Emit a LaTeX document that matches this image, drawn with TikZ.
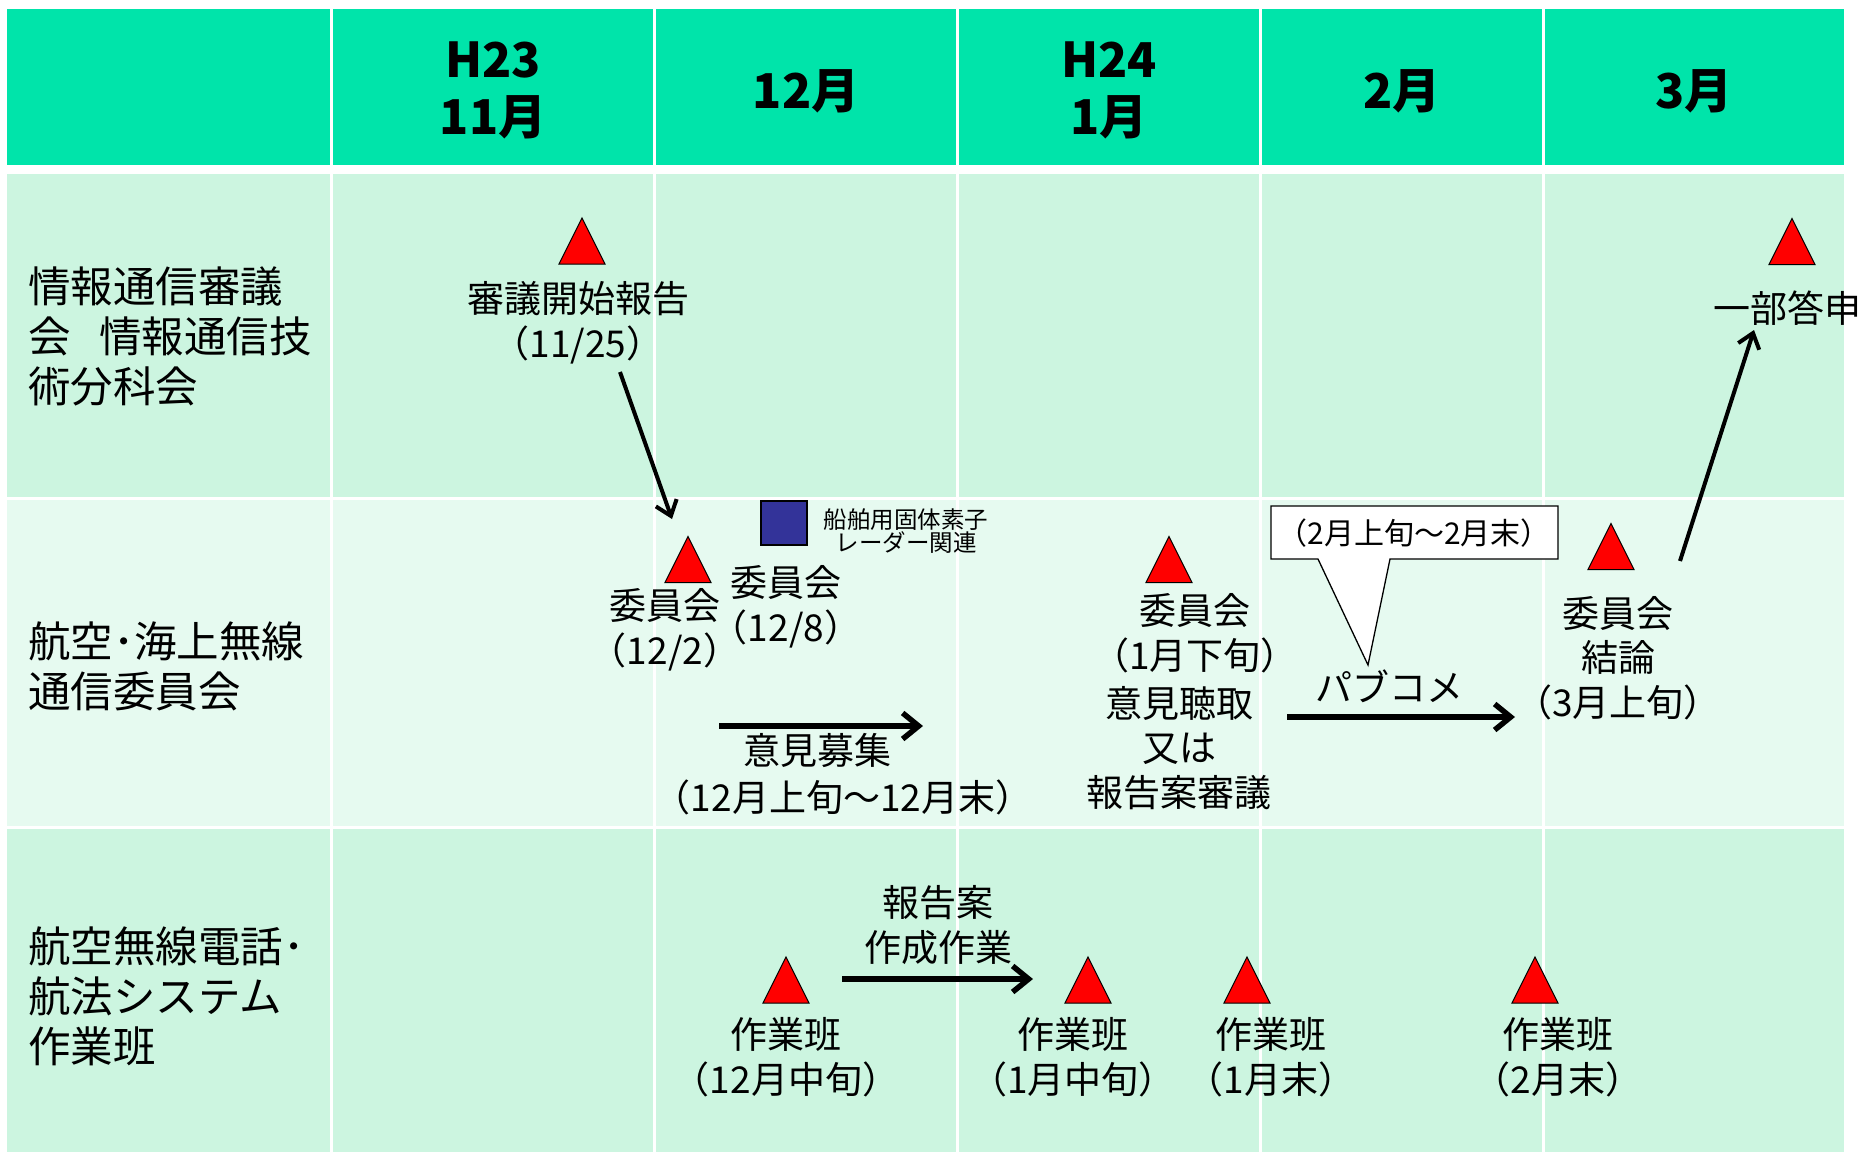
\documentclass[tikz,border=0pt]{standalone}
\usepackage{fontspec}
\setmainfont{Noto Sans CJK JP}
\usetikzlibrary{arrows.meta, calc}
\definecolor{headGreen}{RGB}{0,228,170}
\definecolor{rowDark}{RGB}{204,245,224}
\definecolor{rowLight}{RGB}{230,250,240}
\definecolor{navy}{RGB}{51,51,153}

\begin{document}
\begin{tikzpicture}[
	x=1pt, y=-1pt,
	head/.style={font=\fontsize{48}{57}\selectfont\bfseries, align=center, inner sep=0},
	rowText/.style={font=\fontsize{42.5}{50}\selectfont, align=left, anchor=west, inner sep=0},
	txt/.style={font=\fontsize{37}{44.5}\selectfont, align=center, inner sep=0},
	small/.style={font=\fontsize{23.5}{23}\selectfont, align=center, inner sep=0},
	thArrow/.style={-{Straight Barb[length=16pt, width=26pt]}, line width=5.5pt},
	thinArrow/.style={-{Straight Barb[length=14pt, width=22pt]}, line width=4pt},
	tri/.pic={\draw[fill=red, line width=1pt] (-23,23) -- (0,-23) -- (23,23) -- cycle;}
	]
	
	\useasboundingbox (0,0) rectangle (1861,1152);
	
	% Grid
	\foreach \xa/\xb in {7/330, 333/653, 656/956, 959/1259, 1262/1542, 1545/1844} {
		\fill[headGreen] (\xa,9) rectangle (\xb,165);
		\fill[rowDark] (\xa,174) rectangle (\xb,497);
		\fill[rowLight] (\xa,500) rectangle (\xb,826);
		\fill[rowDark] (\xa,829) rectangle (\xb,1152);
	}
	
	% Header
	\node[head] (nov) at (493, 90.5) {H23\\11月};
	\node[head] (dec) at (806, 91) {12月};
	\node[head] (jan) at (1109, 90.5) {H24\\1月};
	\node[head] (feb) at (1402, 91) {2月};
	\node[head] (mar) at (1694, 91) {3月};
	
	% Row labels
	\node[rowText] (bunka) at (28, 336) {情報通信審議\\会\hspace{0.67em}情報通信技\\術分科会};
	\node[rowText] (iinkai) at (28, 666) {航空･海上無線\\通信委員会};
	\node[rowText] (sagyo) at (28, 996) {航空無線電話･\\航法システム\\作業班};
	
	% Bunkakai
	\pic at (582, 241) {tri};
	\pic at (1792, 241.5) {tri};
	\node[txt] (kaishi) at (578, 322.5) {審議開始報告\\（11/25）};
	\node[txt] (toshin) at (1787, 308) {一部答申};
	
	% Iinkai
	\pic at (688, 559.5) {tri};
	\pic at (1169, 559.5) {tri};
	\pic at (1611, 546.5) {tri};
	\draw[fill=navy, line width=1.3pt] (761,501) rectangle (807,545);
	\node[small] (radar) at (906, 531.5) {船舶用固体素子\\レーダー関連};
	\node[txt] (i1202) at (665, 630) {委員会\\（12/2）};
	\node[txt] (i1208) at (786, 607) {委員会\\（12/8）};
	\node[txt] (iJan) at (1195, 633) {委員会\\（1月下旬）};
	\node[txt] (ikenJan) at (1179, 748) {意見聴取\\又は\\報告案審議};
	\node[txt] (boshu) at (817, 750) {意見募集};
	\node[txt] (boshuTerm) at (843, 797) {（12月上旬～12月末）};
	\node[txt] (pubcom) at (1389, 686) {パブコメ};
	\node[txt] (ketsuron) at (1618, 658) {委員会\\結論\\（3月上旬）};
	
	% Callout
	\draw[fill=white, line width=1.3pt] (1271,506) -- (1558,506) -- (1558,559) -- (1390,559)
		-- (1368,665) -- (1318,559) -- (1271,559) -- cycle;
	\node[font=\fontsize{30}{36}\selectfont, inner sep=0] (pcTerm) at (1414, 533) {（2月上旬～2月末）};
	
	% Sagyohan
	\foreach \x in {786, 1088, 1247, 1535}
		\pic at (\x, 980) {tri};
	\node[txt] (sakusei) at (938, 925) {報告案\\作成作業};
	\node[txt] (s1) at (786, 1057) {作業班\\（12月中旬）};
	\node[txt] (s2) at (1073, 1057) {作業班\\（1月中旬）};
	\node[txt] (s3) at (1271, 1057) {作業班\\（1月末）};
	\node[txt] (s4) at (1558, 1057) {作業班\\（2月末）};
	
	% Arrows
	\coordinate (A1s) at (620, 372);
	\coordinate (A1e) at (672, 519);
	\coordinate (A2s) at (1680, 561);
	\coordinate (A2e) at (1754, 330);
	\coordinate (H1s) at (719, 726);
	\coordinate (H1e) at (923, 726);
	\coordinate (H2s) at (1287, 717);
	\coordinate (H2e) at (1515, 717);
	\coordinate (H3s) at (842, 979);
	\coordinate (H3e) at (1033, 979);
	\draw[thinArrow] (A1s) -- (A1e);
	\draw[thinArrow] (A2s) -- (A2e);
	\draw[thArrow] (H1s) -- (H1e);
	\draw[thArrow] (H2s) -- (H2e);
	\draw[thArrow] (H3s) -- (H3e);
\end{tikzpicture}
\end{document}
